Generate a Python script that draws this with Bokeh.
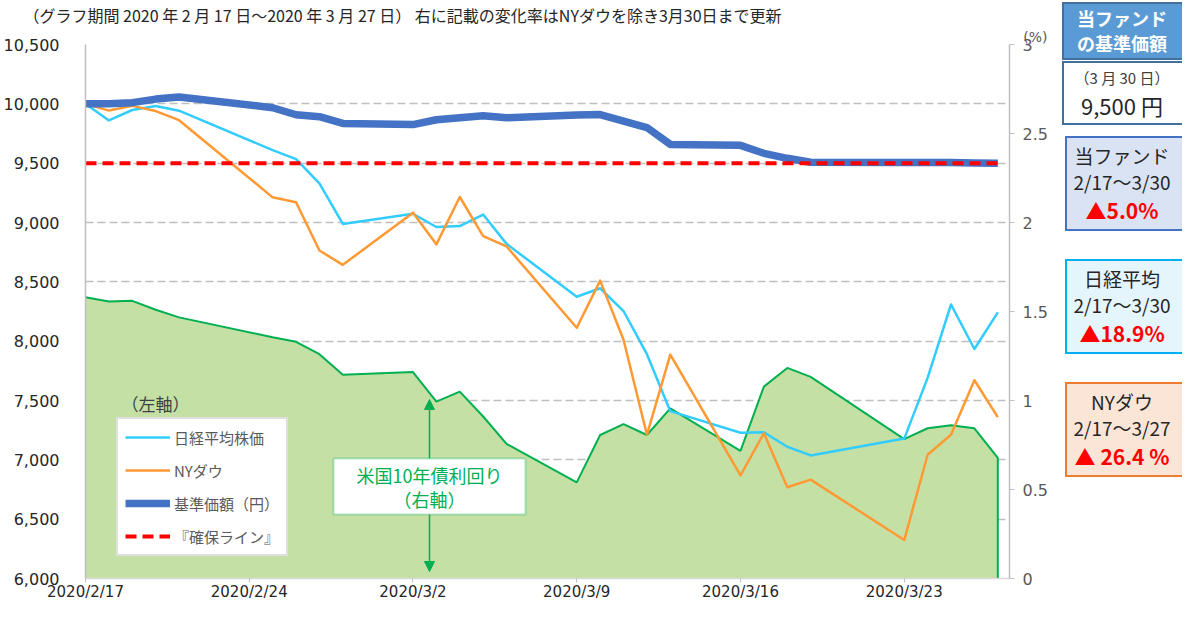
import pandas as pd
from bokeh.plotting import figure
from bokeh.layouts import row
from bokeh.models import (Range1d, LinearAxis, FixedTicker, NumeralTickFormatter, Legend, LegendItem,
                          Label, BoxAnnotation, Arrow, NormalHead, Title, Div)
from bokeh.embed import file_html
from bokeh.resources import INLINE

# ---------------- data ----------------
dates = ["2020-02-17", "2020-02-18", "2020-02-19", "2020-02-20", "2020-02-21",
         "2020-02-25", "2020-02-26", "2020-02-27", "2020-02-28",
         "2020-03-02", "2020-03-03", "2020-03-04", "2020-03-05", "2020-03-06",
         "2020-03-09", "2020-03-10", "2020-03-11", "2020-03-12", "2020-03-13",
         "2020-03-16", "2020-03-17", "2020-03-18", "2020-03-19",
         "2020-03-23", "2020-03-24", "2020-03-25", "2020-03-26", "2020-03-27"]
nikkei = [10000, 9860, 9948, 9981, 9942, 9610, 9534, 9330, 8988,
          9074, 8962, 8970, 9067, 8820, 8374, 8446, 8254, 7890, 7410,
          7228, 7232, 7110, 7037, 7179, 7691, 8309, 7934, 8242]
nydow = [10000, 9943, 9983, 9939, 9862, 9212, 9170, 8764, 8643,
         9083, 8816, 9215, 8885, 8798, 8113, 8510, 8012, 7211, 7887,
         6868, 7224, 6769, 6833, 6324, 7043, 7212, 7671, 7360]
nav = [10000, 10000, 10010, 10040, 10058, 9967, 9908, 9892, 9835,
       9825, 9866, 9883, 9900, 9883, 9905, 9910, 9855, 9800, 9658,
       9650, 9583, 9541, 9508, 9505, 9505, 9505, 9502, 9500]
us10y = [1.58, 1.556, 1.56, 1.51, 1.467, 1.355, 1.33, 1.26, 1.144,
         1.16, 0.994, 1.05, 0.91, 0.756, 0.54, 0.806, 0.867, 0.806, 0.956,
         0.717, 1.078, 1.183, 1.133, 0.783, 0.844, 0.861, 0.844, 0.678]
guarantee = 9500
tick_dates = ["2020/2/17", "2020/2/24", "2020/3/2", "2020/3/9", "2020/3/16", "2020/3/23"]
left_ticks = list(range(6000, 10501, 500))
right_ticks = [0, 0.5, 1, 1.5, 2, 2.5, 3]
series_names = ["日経平均株価", "NYダウ", "基準価額（円）", "『確保ライン』"]
box_titles = ["当ファンド", "日経平均", "NYダウ"]
box_periods = ["2/17～3/30", "2/17～3/30", "2/17～3/27"]
box_changes = ["▲5.0%", "▲18.9%", "▲ 26.4 %"]
nav_date = "（3 月 30 日）"
nav_latest = "9,500 円"
header = "（グラフ期間 2020 年 2 月 17 日～2020 年 3 月 27 日） 右に記載の変化率はNYダウを除き3月30日まで更新"

JP = "Noto Sans CJK JP"
NUM = "DejaVu Sans"
GRAY = "#595959"
DARK = "#262626"
H = 603

start = pd.Timestamp(dates[0])
xd = [(pd.Timestamp(d) - start).days for d in dates]
xt = [(pd.Timestamp(d.replace("/", "-")) - start).days for d in tick_dates]

# ---------------- main figure ----------------
p = figure(width=1052, height=H, x_range=Range1d(0, 39.5), y_range=Range1d(6000, 10500),
           output_backend="svg", toolbar_location=None, title=None,
           min_border_left=85, min_border_right=43, min_border_top=41, min_border_bottom=20)
p.outline_line_color = None
p.extra_y_ranges = {"right": Range1d(0, 3)}

p.add_layout(Title(text="(%)", align="right", offset=-38, standoff=0,
                   text_font=NUM, text_font_size="14px", text_font_style="normal",
                   text_color=GRAY), "above")
p.add_layout(Title(text=header, align="left", offset=-62, standoff=0,
                   text_font=JP, text_font_size="16px", text_font_style="normal",
                   text_color=DARK), "above")

p.xgrid.grid_line_color = None
p.ygrid.ticker = FixedTicker(ticks=left_ticks)
p.ygrid.grid_line_color = "#BFBFBF"
p.ygrid.grid_line_dash = "8 4"
p.ygrid.grid_line_width = 1.5

xa = p.xaxis[0]
xa.ticker = FixedTicker(ticks=xt)
xa.major_label_overrides = {t: s for t, s in zip(xt, tick_dates)}
xa.axis_line_color = "#D9D9D9"
xa.axis_line_width = 1.5
xa.major_tick_line_color = "#BFBFBF"
xa.major_tick_out = 4
xa.major_tick_in = 0
xa.minor_tick_line_color = None
xa.major_label_standoff = 0
xa.major_label_text_font = NUM
xa.major_label_text_font_size = "15px"
xa.major_label_text_color = DARK

ya = p.yaxis[0]
ya.ticker = FixedTicker(ticks=left_ticks)
ya.formatter = NumeralTickFormatter(format="0,0")
ya.axis_line_color = "#BFBFBF"
ya.axis_line_width = 1.5
ya.major_tick_line_color = None
ya.minor_tick_line_color = None
ya.major_label_standoff = 20
ya.major_label_text_font = NUM
ya.major_label_text_font_size = "16px"
ya.major_label_text_color = DARK

ra = LinearAxis(y_range_name="right", ticker=FixedTicker(ticks=right_ticks),
                formatter=NumeralTickFormatter(format="0.[0]"))
ra.axis_line_color = "#BFBFBF"
ra.axis_line_width = 1.5
ra.major_tick_line_color = "#BFBFBF"
ra.major_tick_out = 5
ra.major_tick_in = 0
ra.minor_tick_line_color = None
ra.major_label_standoff = 8
ra.major_label_text_font = NUM
ra.major_label_text_font_size = "16px"
ra.major_label_text_color = GRAY
p.add_layout(ra, "right")

# yield area (right axis)
p.varea(x=xd, y1=0, y2=us10y, y_range_name="right", fill_color="#C5E0A4")
p.line(xd + [xd[-1]], us10y + [0], y_range_name="right", line_color="#00B050", line_width=2)

r_nk = p.line(xd, nikkei, line_color="#33CCFF", line_width=2.5, line_join="round")
r_dw = p.line(xd, nydow, line_color="#FF9933", line_width=2.5, line_join="round")
r_nav = p.line(xd, nav, line_color="#4472C4", line_width=7.5, line_join="round")
r_g = p.line(xd, [guarantee] * len(xd), line_color="#FF0000", line_width=4, line_dash="11 6")

legend = Legend(items=[LegendItem(label=n, renderers=[r]) for n, r in
                       zip(series_names, [r_nk, r_dw, r_nav, r_g])],
                location=(31, 22), orientation="vertical")
legend.border_line_color = "#BFBFBF"
legend.border_line_width = 2
legend.background_fill_color = "white"
legend.background_fill_alpha = 1
legend.label_text_font = JP
legend.label_text_font_size = "15px"
legend.label_text_color = GRAY
legend.glyph_width = 45
legend.glyph_height = 22
legend.label_height = 22
legend.label_standoff = 4
legend.spacing = 11
legend.padding = 7
legend.margin = 0
p.add_layout(legend)

p.add_layout(Label(x=36, y=175, x_units="screen", y_units="screen", text="（左軸）",
                   text_font=JP, text_font_size="17px", text_color="#404040",
                   text_baseline="middle"))

# arrow + box for yield annotation
head = dict(size=10, fill_color="#00B050", line_color="#00B050")
for y_end in (179, 7):
    p.add_layout(Arrow(x_start=344, y_start=92, x_end=344, y_end=y_end,
                       start_units="screen", end_units="screen",
                       end=NormalHead(**head), start=None,
                       line_color="#00B050", line_width=1.5))
p.add_layout(BoxAnnotation(left=248, right=440, bottom=64, top=120,
                           left_units="screen", right_units="screen",
                           bottom_units="screen", top_units="screen",
                           fill_color="white", fill_alpha=1,
                           line_color="#00B050", line_width=2))
p.add_layout(Label(x=344, y=104, x_units="screen", y_units="screen", text="米国10年債利回り",
                   text_font=JP, text_font_size="18px", text_color="#00B050",
                   text_align="center", text_baseline="middle"))
p.add_layout(Label(x=344, y=80, x_units="screen", y_units="screen", text="（右軸）",
                   text_font=JP, text_font_size="18px", text_color="#00B050",
                   text_align="center", text_baseline="middle"))

# ---------------- side panel (HTML boxes) ----------------
SW = 130


def line(t, size, color=DARK, bold=False, lh=26):
    return (f'<div style="line-height:{lh}px;height:{lh}px;font-size:{size}px;color:{color};'
            f'font-weight:{"bold" if bold else "normal"};white-space:nowrap">{t}</div>')


def box(left, top, height, fill, border, lines, bw=2):
    return (f'<div style="position:absolute;left:{left}px;top:{top}px;width:{SW + 10 - left}px;'
            f'height:{height}px;box-sizing:border-box;background:{fill};border:{bw}px solid {border};'
            f'display:flex;flex-direction:column;justify-content:center;align-items:center;'
            f'padding-right:{SW + 10 - left - 2 * (70 - left)}px">{"".join(lines)}</div>')


parts = [
    box(10, 2, 58, "#5B9BD5", "#41719C",
        [line("当ファンド", 18, "white", True, 25), line("の基準価額", 18, "white", True, 25)]),
    box(10, 61, 64, "white", "#41719C",
        [line(nav_date, 15, "#404040", lh=24), line(nav_latest, 22, lh=30)], bw=2.5),
]
for top, f, b, t1, t2, t3 in zip([136, 259, 382], ["#DAE3F3", "#E5F5FC", "#FBE5D6"],
                                  ["#4472C4", "#00B0F0", "#ED7D31"],
                                  box_titles, box_periods, box_changes):
    parts.append(box(13, top, 95, f, b,
                     [line(t1, 19, lh=27), line(t2, 19, lh=26),
                      line(t3, 21, "#FF0000", True, lh=30)]))

html = (f'<div style="position:relative;width:{SW}px;height:{H}px;overflow:hidden;'
        f'font-family:\'{JP}\',sans-serif">{"".join(parts)}</div>')
side = Div(text=html, width=SW, height=H, margin=0)

layout = row(p, side)
open("out.html", "w").write(file_html(layout, INLINE))
